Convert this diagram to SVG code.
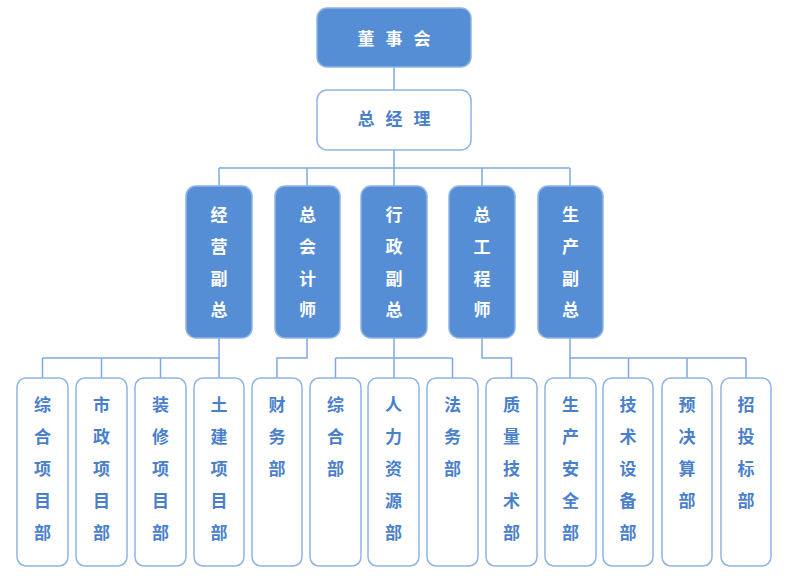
<svg xmlns="http://www.w3.org/2000/svg" width="794" height="582" viewBox="0 0 794 582">
<style>
.fill{fill:#558ED5;stroke:#8EB4E3;stroke-width:1.5}
.wht{fill:#ffffff;stroke:#8EB4E3;stroke-width:1.5}
.tw{fill:#ffffff;font-family:"Noto Sans CJK SC",sans-serif;font-size:17px;font-weight:bold;text-anchor:middle;dominant-baseline:central}
.tb{fill:#4A7FCC;font-family:"Noto Sans CJK SC",sans-serif;font-size:17px;font-weight:bold;text-anchor:middle;dominant-baseline:central}
.ln{stroke:#7FA8E0;stroke-width:1.5;fill:none}
</style>
<rect width="794" height="582" fill="#ffffff"/>
<g id="connectors">
<path class="ln" d="M394 67V90M394 150V168M219 168H570M219 168V186M307 168V186M394 168V186M482 168V186M570 168V186"/>
<path class="ln" d="M219 338V378M42.5 358H219M42.5 358V378M101.5 358V378M160.5 358V378"/>
<path class="ln" d="M307 338V358H277V378"/>
<path class="ln" d="M394 338V378M335.5 358H452.5M335.5 358V378M452.5 358V378"/>
<path class="ln" d="M482 338V358H511.5V378"/>
<path class="ln" d="M570 338V378M570 358H746M628.5 358V378M687 358V378M746 358V378"/>
</g>
<g id="n-board"><rect class="fill" x="317" y="8" width="154" height="59" rx="10"/><text class="tw" font-size="18"><tspan x="366" y="37">董</tspan><tspan x="394" y="37">事</tspan><tspan x="422" y="37">会</tspan></text></g>
<g id="n-gm"><rect class="wht" x="317" y="90" width="154" height="60" rx="10"/><text class="tb" font-size="18"><tspan x="366" y="117">总</tspan><tspan x="394" y="117">经</tspan><tspan x="422" y="117">理</tspan></text></g>
<g id="n-m1"><rect class="fill" x="186" y="186" width="66" height="152" rx="10"/><text class="tw"><tspan x="219" y="213">经</tspan><tspan x="219" y="245">营</tspan><tspan x="219" y="277">副</tspan><tspan x="219" y="308">总</tspan></text></g>
<g id="n-m2"><rect class="fill" x="275" y="186" width="65" height="152" rx="10"/><text class="tw"><tspan x="307.5" y="213">总</tspan><tspan x="307.5" y="245">会</tspan><tspan x="307.5" y="277">计</tspan><tspan x="307.5" y="308">师</tspan></text></g>
<g id="n-m3"><rect class="fill" x="361" y="186" width="66" height="152" rx="10"/><text class="tw"><tspan x="394" y="213">行</tspan><tspan x="394" y="245">政</tspan><tspan x="394" y="277">副</tspan><tspan x="394" y="308">总</tspan></text></g>
<g id="n-m4"><rect class="fill" x="449" y="186" width="66" height="152" rx="10"/><text class="tw"><tspan x="482" y="213">总</tspan><tspan x="482" y="245">工</tspan><tspan x="482" y="277">程</tspan><tspan x="482" y="308">师</tspan></text></g>
<g id="n-m5"><rect class="fill" x="538" y="186" width="65" height="152" rx="10"/><text class="tw"><tspan x="570.5" y="213">生</tspan><tspan x="570.5" y="245">产</tspan><tspan x="570.5" y="277">副</tspan><tspan x="570.5" y="308">总</tspan></text></g>
<g id="d1"><rect class="wht" x="17" y="378" width="51" height="188" rx="9"/><text class="tb"><tspan x="42.5" y="403">综</tspan><tspan x="42.5" y="435">合</tspan><tspan x="42.5" y="467">项</tspan><tspan x="42.5" y="499">目</tspan><tspan x="42.5" y="531">部</tspan></text></g>
<g id="d2"><rect class="wht" x="76" y="378" width="51" height="188" rx="9"/><text class="tb"><tspan x="101.5" y="403">市</tspan><tspan x="101.5" y="435">政</tspan><tspan x="101.5" y="467">项</tspan><tspan x="101.5" y="499">目</tspan><tspan x="101.5" y="531">部</tspan></text></g>
<g id="d3"><rect class="wht" x="135" y="378" width="51" height="188" rx="9"/><text class="tb"><tspan x="160.5" y="403">装</tspan><tspan x="160.5" y="435">修</tspan><tspan x="160.5" y="467">项</tspan><tspan x="160.5" y="499">目</tspan><tspan x="160.5" y="531">部</tspan></text></g>
<g id="d4"><rect class="wht" x="194" y="378" width="50" height="188" rx="9"/><text class="tb"><tspan x="219" y="403">土</tspan><tspan x="219" y="435">建</tspan><tspan x="219" y="467">项</tspan><tspan x="219" y="499">目</tspan><tspan x="219" y="531">部</tspan></text></g>
<g id="d5"><rect class="wht" x="252" y="378" width="50" height="188" rx="9"/><text class="tb"><tspan x="277" y="403">财</tspan><tspan x="277" y="435">务</tspan><tspan x="277" y="467">部</tspan></text></g>
<g id="d6"><rect class="wht" x="310" y="378" width="51" height="188" rx="9"/><text class="tb"><tspan x="335.5" y="403">综</tspan><tspan x="335.5" y="435">合</tspan><tspan x="335.5" y="467">部</tspan></text></g>
<g id="d7"><rect class="wht" x="368" y="378" width="51" height="188" rx="9"/><text class="tb"><tspan x="393.5" y="403">人</tspan><tspan x="393.5" y="435">力</tspan><tspan x="393.5" y="467">资</tspan><tspan x="393.5" y="499">源</tspan><tspan x="393.5" y="531">部</tspan></text></g>
<g id="d8"><rect class="wht" x="427" y="378" width="51" height="188" rx="9"/><text class="tb"><tspan x="452.5" y="403">法</tspan><tspan x="452.5" y="435">务</tspan><tspan x="452.5" y="467">部</tspan></text></g>
<g id="d9"><rect class="wht" x="486" y="378" width="51" height="188" rx="9"/><text class="tb"><tspan x="511.5" y="403">质</tspan><tspan x="511.5" y="435">量</tspan><tspan x="511.5" y="467">技</tspan><tspan x="511.5" y="499">术</tspan><tspan x="511.5" y="531">部</tspan></text></g>
<g id="d10"><rect class="wht" x="545" y="378" width="51" height="188" rx="9"/><text class="tb"><tspan x="570.5" y="403">生</tspan><tspan x="570.5" y="435">产</tspan><tspan x="570.5" y="467">安</tspan><tspan x="570.5" y="499">全</tspan><tspan x="570.5" y="531">部</tspan></text></g>
<g id="d11"><rect class="wht" x="603" y="378" width="50" height="188" rx="9"/><text class="tb"><tspan x="628" y="403">技</tspan><tspan x="628" y="435">术</tspan><tspan x="628" y="467">设</tspan><tspan x="628" y="499">备</tspan><tspan x="628" y="531">部</tspan></text></g>
<g id="d12"><rect class="wht" x="662" y="378" width="50" height="188" rx="9"/><text class="tb"><tspan x="687" y="403">预</tspan><tspan x="687" y="435">决</tspan><tspan x="687" y="467">算</tspan><tspan x="687" y="499">部</tspan></text></g>
<g id="d13"><rect class="wht" x="721" y="378" width="50" height="188" rx="9"/><text class="tb"><tspan x="746" y="403">招</tspan><tspan x="746" y="435">投</tspan><tspan x="746" y="467">标</tspan><tspan x="746" y="499">部</tspan></text></g>
</svg>
